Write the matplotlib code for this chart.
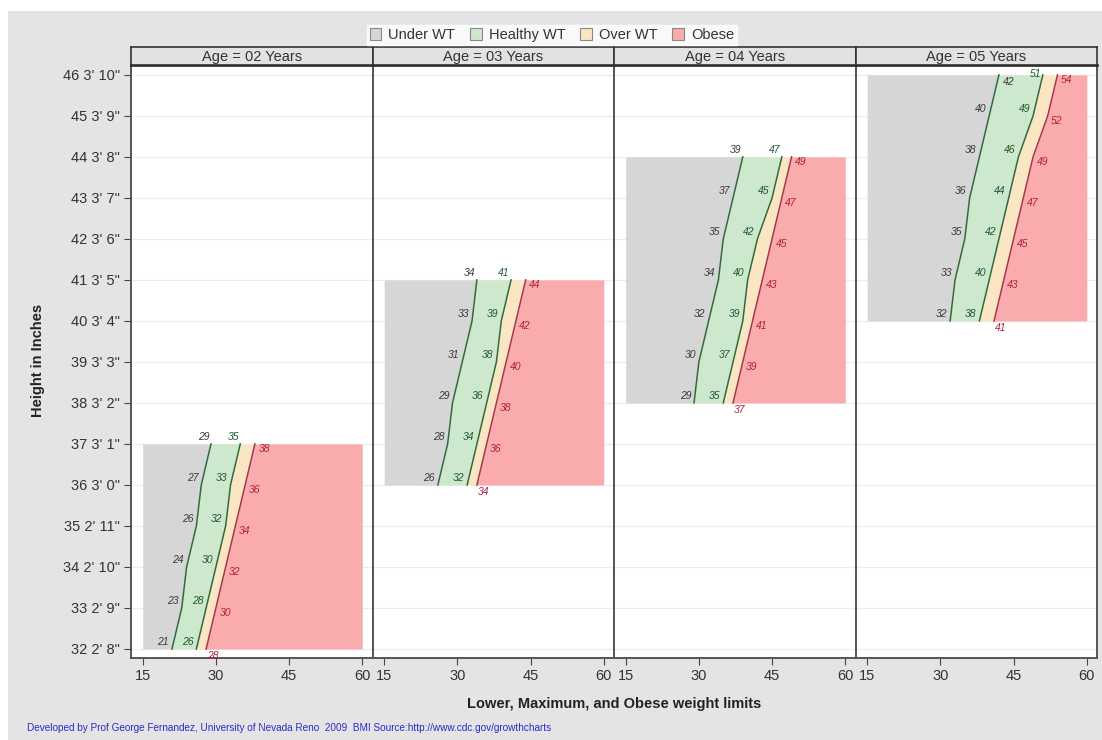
import matplotlib
matplotlib.use("Agg")
import matplotlib.pyplot as plt
from matplotlib.patches import Rectangle, Patch

plt.rcParams['font.family'] = ['Liberation Sans', 'DejaVu Sans']

# ---------------- data ----------------
ages = ["02", "03", "04", "05"]
heights_age2 = [32, 33, 34, 35, 36, 37]
lower_age2 = [21, 23, 24, 26, 27, 29]
healthy_age2 = [26, 28, 30, 32, 33, 35]
obese_age2 = [28, 30, 32, 34, 36, 38]

heights_age3 = [36, 37, 38, 39, 40, 41]
lower_age3 = [26, 28, 29, 31, 33, 34]
healthy_age3 = [32, 34, 36, 38, 39, 41]
obese_age3 = [34, 36, 38, 40, 42, 44]

heights_age4 = [38, 39, 40, 41, 42, 43, 44]
lower_age4 = [29, 30, 32, 34, 35, 37, 39]
healthy_age4 = [35, 37, 39, 40, 42, 45, 47]
obese_age4 = [37, 39, 41, 43, 45, 47, 49]

heights_age5 = [40, 41, 42, 43, 44, 45, 46]
lower_age5 = [32, 33, 35, 36, 38, 40, 42]
healthy_age5 = [38, 40, 42, 44, 46, 49, 51]
obese_age5 = [41, 43, 45, 47, 49, 52, 54]

height_ticks = list(range(32, 47))
height_labels = ["32 2' 8\"", "33 2' 9\"", "34 2' 10\"", "35 2' 11\"", "36 3' 0\"",
                 "37 3' 1\"", "38 3' 2\"", "39 3' 3\"", "40 3' 4\"", "41 3' 5\"",
                 "42 3' 6\"", "43 3' 7\"", "44 3' 8\"", "45 3' 9\"", "46 3' 10\""]
weight_ticks = [15, 30, 45, 60]
weight_min, weight_max = 15, 60
legend_labels = ["Under WT", "Healthy WT", "Over WT", "Obese"]

panels = [
    (heights_age2, lower_age2, healthy_age2, obese_age2),
    (heights_age3, lower_age3, healthy_age3, obese_age3),
    (heights_age4, lower_age4, healthy_age4, obese_age4),
    (heights_age5, lower_age5, healthy_age5, obese_age5),
]

# ---------------- style ----------------
c_under = "#d6d6d6"
c_healthy = "#cde8cd"
c_over = "#fbe6c3"
c_obese = "#f9abae"
c_line_g = "#2f6b3c"
c_line_r = "#a8344a"
c_txt_lower = "#3a3a3a"
c_txt_healthy = "#1f5a2c"
c_txt_obese = "#b3203c"
frame_c = "#555555"
lab_fs = 7.5

W, H = 1102, 740
fig = plt.figure(figsize=(W / 100, H / 100), dpi=100)
fig.patch.set_facecolor("white")
fig.patches.append(Rectangle((8 / W, 0), 1 - 8 / W, 1 - 11 / H, transform=fig.transFigure,
                             facecolor="#e4e4e4", edgecolor="none", zorder=-10))

left_px, right_px = 131, 1097
top_px, bot_px = 65, 658
head_px = 18
pw = (right_px - left_px) / 4
y_lo, y_hi = 31.78, 46.24

for i, (hs, lo, he, ob) in enumerate(panels):
    x0 = left_px + i * pw
    ax = fig.add_axes([x0 / W, 1 - bot_px / H, pw / W, (bot_px - top_px) / H])
    ax.set_xlim(12.6, 62.1)
    ax.set_ylim(y_lo, y_hi)
    ax.set_facecolor("white")
    for yt in height_ticks:
        ax.axhline(yt, color="#ececec", lw=0.8, zorder=0)
    # bands
    ax.fill_betweenx(hs, weight_min, lo, color=c_under, lw=0, zorder=1)
    ax.fill_betweenx(hs, lo, he, color=c_healthy, lw=0, zorder=1)
    ax.fill_betweenx(hs, he, ob, color=c_over, lw=0, zorder=1)
    ax.fill_betweenx(hs, ob, weight_max, color=c_obese, lw=0, zorder=1)
    ax.plot(lo, hs, color=c_line_g, lw=1.1, zorder=2)
    ax.plot(he, hs, color=c_line_g, lw=1.1, zorder=2)
    ax.plot(ob, hs, color=c_line_r, lw=1.1, zorder=2)
    n = len(hs)
    for j in range(n):
        top = (j == n - 1)
        bottom = (j == 0)
        at_edge = top and hs[j] + 0.4 > y_hi
        for k, (vals, col) in enumerate(((lo, c_txt_lower), (he, c_txt_healthy))):
            if at_edge:
                if k == 0:
                    ax.text(vals[j] + 0.8, hs[j] - 0.17, str(vals[j]), ha="left", va="center",
                            fontsize=lab_fs, style="italic", color=col, zorder=3)
                else:
                    ax.text(vals[j] - 0.4, hs[j] + 0.03, str(vals[j]), ha="right", va="center",
                            fontsize=lab_fs, style="italic", color=col, zorder=3)
            elif top:
                ax.text(vals[j] - 0.3, hs[j] + 0.05, str(vals[j]), ha="right", va="bottom",
                        fontsize=lab_fs, style="italic", color=col, zorder=3)
            else:
                ax.text(vals[j] - 0.6, hs[j] + 0.17, str(vals[j]), ha="right", va="center",
                        fontsize=lab_fs, style="italic", color=col, zorder=3)
        if bottom:
            ax.text(ob[j] + 0.2, hs[j] - 0.06, str(ob[j]), ha="left", va="top",
                    fontsize=lab_fs, style="italic", color=c_txt_obese, zorder=3)
        else:
            ax.text(ob[j] + 0.7, hs[j] - 0.12, str(ob[j]), ha="left", va="center",
                    fontsize=lab_fs, style="italic", color=c_txt_obese, zorder=3)
    ax.set_xticks(weight_ticks)
    ax.set_xticklabels([str(t) for t in weight_ticks])
    ax.tick_params(axis="x", direction="out", length=5, width=0.8, color="#444444",
                   labelsize=10.5, labelcolor="#333333", pad=3)
    if i == 0:
        ax.set_yticks(height_ticks)
        ax.set_yticklabels(height_labels)
        ax.tick_params(axis="y", direction="out", length=5, width=0.8, color="#444444",
                       labelsize=10.5, labelcolor="#333333", pad=3)
    else:
        ax.set_yticks([])
    for s in ax.spines.values():
        s.set_color(frame_c)
        s.set_linewidth(1.4)
    ax.spines["top"].set_color("#111111")
    ax.spines["top"].set_linewidth(1.8)
    # header strip
    hax = fig.add_axes([x0 / W, 1 - top_px / H, pw / W, head_px / H])
    hax.set_facecolor("#e2e2e2")
    hax.set_xticks([])
    hax.set_yticks([])
    for s in hax.spines.values():
        s.set_color("#333333")
        s.set_linewidth(1.2)
    hax.text(0.5, 0.45, f"Age = {ages[i]} Years", ha="center", va="center",
             fontsize=10.5, color="#333333", transform=hax.transAxes)

# legend
handles = [Patch(facecolor=c, edgecolor="#888888", lw=0.8)
           for c in (c_under, c_healthy, c_over, c_obese)]
leg = fig.legend(handles, legend_labels, loc="center", bbox_to_anchor=(552 / W, 1 - 35 / H),
                 ncol=4, frameon=True, fontsize=10.5, handlelength=0.8, handleheight=0.8,
                 handletextpad=0.5, columnspacing=1.0, borderpad=0.2, fancybox=False)
leg.get_frame().set_facecolor("white")
leg.get_frame().set_edgecolor("white")
for t in leg.get_texts():
    t.set_color("#333333")

fig.text(614 / W, 1 - 704 / H, "Lower, Maximum, and Obese weight limits", ha="center",
         va="center", fontsize=10.5, fontweight="bold", color="#222222")
fig.text(38 / W, 1 - 360 / H, "Height in Inches", ha="center", va="center", rotation=90,
         fontsize=10.5, fontweight="bold", color="#222222")
fig.text(27 / W, 1 - 728 / H,
         "Developed by Prof George Fernandez, University of Nevada Reno  2009  BMI Source:http://www.cdc.gov/growthcharts",
         ha="left", va="center", fontsize=7.2, color="#2a2acc")

fig.savefig("out.png", dpi=100, facecolor=fig.get_facecolor())
